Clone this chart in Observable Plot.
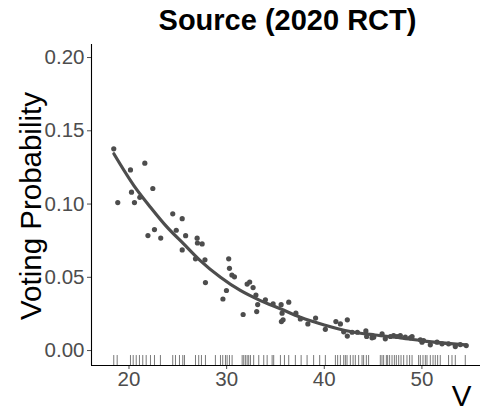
<!DOCTYPE html>
<html>
<head>
<meta charset="utf-8">
<script src="https://cdn.jsdelivr.net/npm/d3@7"></script>
<script src="https://cdn.jsdelivr.net/npm/@observablehq/plot@0.6"></script>
<style>
  html, body { margin: 0; padding: 0; background: #fff; }
  body { width: 484px; height: 417px; overflow: hidden; font-family: "Liberation Sans", Arial, Helvetica, sans-serif; }
  #title { height: 40px; box-sizing: border-box; padding-left: 91px; text-align: center; font-weight: bold; font-size: 29px; line-height: 40px; color: #000; }
</style>
</head>
<body>
<div id="title"></div>
<div id="chart"></div>
<script>
const titleText = "Source (2020 RCT)";
const xLabel = "V";
const yLabel = "Voting Probability";

const xTicks = [20, 30, 40, 50];
const yTicks = [0.00, 0.05, 0.10, 0.15, 0.20];
const xDomain = [16.16, 56.0];
const yDomain = [-0.0102, 0.2089];

// scatter points (V, probability)
const pointX = [18.44, 18.85, 20.15, 20.26, 20.56, 21.11, 21.62, 21.94, 22.44, 22.61,
  23.25, 24.48, 24.84, 25.45, 25.45, 25.80, 26.98, 27.01, 27.49, 26.81,
  27.78, 27.83, 29.62, 29.98, 30.21, 30.29, 30.54, 30.80, 31.69, 32.10,
  32.36, 32.71, 33.00, 33.18, 33.08, 33.97, 34.76, 35.58, 36.36, 35.68,
  35.61, 35.78, 37.09, 37.55, 38.32, 39.11, 40.11, 41.19, 41.65, 42.36,
  41.99, 42.36, 42.85, 43.39, 44.26, 44.34, 44.89, 45.06, 45.92, 46.25,
  46.77, 47.10, 47.45, 47.79, 48.30, 48.81, 48.99, 49.84, 50.01, 50.17,
  50.86, 51.55, 52.06, 52.73, 53.42, 53.93, 54.54];
const pointY = [0.1377, 0.1010, 0.1233, 0.1081, 0.1010, 0.1046, 0.1279, 0.0785, 0.1106, 0.0826,
  0.0768, 0.0933, 0.0821, 0.0900, 0.0687, 0.0784, 0.0767, 0.0734, 0.0728, 0.0626,
  0.0619, 0.0464, 0.0352, 0.0410, 0.0626, 0.0561, 0.0515, 0.0503, 0.0246, 0.0454,
  0.0468, 0.0430, 0.0379, 0.0314, 0.0266, 0.0346, 0.0319, 0.0313, 0.0330, 0.0255,
  0.0198, 0.0210, 0.0255, 0.0216, 0.0182, 0.0222, 0.0145, 0.0198, 0.0182, 0.0210,
  0.0128, 0.0099, 0.0125, 0.0125, 0.0134, 0.0096, 0.0087, 0.0091, 0.0114, 0.0080,
  0.0096, 0.0102, 0.0096, 0.0102, 0.0091, 0.0087, 0.0096, 0.0073, 0.0057, 0.0068,
  0.0039, 0.0057, 0.0046, 0.0046, 0.0027, 0.0041, 0.0034];

// fitted smooth curve
const fitX = [18.45, 20.5, 22.2, 23.9, 25.6, 27.3, 29.37, 31.4, 33.46, 35.5, 37.55, 40.0, 42.67, 45.2, 47.8, 50.5, 54.45];
const fitY = [0.1343, 0.1126, 0.0978, 0.0842, 0.0728, 0.0614, 0.0500, 0.0410, 0.0341, 0.0285, 0.0227, 0.0175, 0.0130, 0.0106, 0.0087, 0.0063, 0.0039];

// rug positions along V
const rugX = [18.44, 18.79, 20.15, 20.43, 20.74, 21.07, 21.41, 21.76, 22.20, 22.61, 23.22,
  24.48, 24.76, 25.17, 25.51, 25.68, 26.81, 27.14, 27.42, 27.83, 28.85, 29.37, 29.60,
  29.88, 30.05, 30.29, 30.56, 31.59, 31.75, 31.92, 32.10, 32.26, 32.44, 32.77, 33.29,
  33.80, 34.15, 34.66, 34.82, 35.51, 35.92, 36.36, 37.04, 37.63, 38.24, 38.91, 39.53,
  40.11, 41.14, 41.37, 41.65, 41.99, 42.16, 42.33, 42.67, 42.95, 43.18, 43.52, 43.87,
  44.03, 44.31, 44.54, 45.74, 45.91, 46.08, 46.36, 46.49, 46.69, 46.94, 47.18, 47.38,
  47.62, 47.86, 48.13, 48.47, 48.74, 48.99, 49.66, 49.84, 50.11, 50.35, 50.52, 50.86,
  51.14, 51.37, 51.61, 51.88, 52.73, 53.08, 53.42, 54.44];

const points = pointX.map((x, i) => ({x, y: pointY[i]}));
const fit = fitX.map((x, i) => ({x, y: fitY[i]}));
const rugLen = 0.0068;

document.getElementById("title").textContent = titleText;

const ink = "#4d4d4d";
const chart = Plot.plot({
  width: 484,
  height: 377,
  marginLeft: 91,
  marginRight: 4,
  marginTop: 4,
  marginBottom: 52,
  style: {fontFamily: '"Liberation Sans", Arial, Helvetica, sans-serif', background: "white", overflow: "visible"},
  x: {domain: xDomain},
  y: {domain: yDomain},
  marks: [
    Plot.ruleX(rugX, {x: d => d, y1: () => yDomain[0], y2: () => yDomain[0] + rugLen, stroke: "#444", strokeWidth: 0.8, strokeOpacity: 0.9}),
    Plot.dot(points, {x: "x", y: "y", r: 2.6, fill: ink, stroke: "none"}),
    Plot.line(fit, {x: "x", y: "y", stroke: ink, strokeWidth: 3.2, curve: "monotone-x"}),
    Plot.axisX({ticks: xTicks, tickFormat: d3.format("d"), tickSize: 4, tickPadding: 2, fontSize: 20.5, color: ink, label: null}),
    Plot.axisY({ticks: yTicks, tickFormat: d3.format(".2f"), tickSize: 4, tickPadding: 3, fontSize: 20.5, color: ink, label: null}),
    Plot.ruleX([xDomain[0]], {stroke: "#000", strokeWidth: 1.1}),
    Plot.ruleY([yDomain[0]], {stroke: "#000", strokeWidth: 1.1}),
    Plot.text([yLabel], {text: d => d, frameAnchor: "left", textAnchor: "middle", rotate: -90, dx: -60, dy: 1, fontSize: 29.5, fill: "#000"}),
    Plot.text([xLabel], {text: d => d, frameAnchor: "bottom-right", textAnchor: "end", dx: -9, dy: 40, fontSize: 29.5, fill: "#000"})
  ]
});
document.getElementById("chart").appendChild(chart);
</script>
</body>
</html>
